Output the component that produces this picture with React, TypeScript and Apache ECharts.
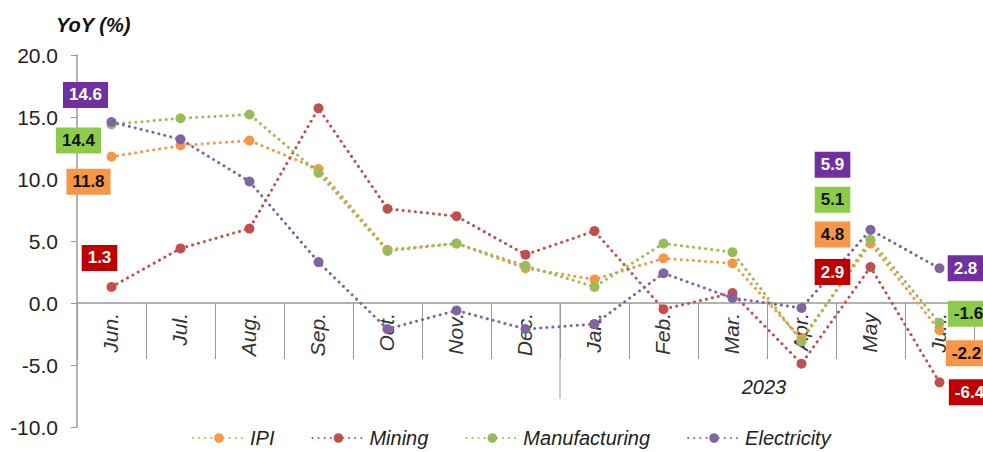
import React, { useEffect, useRef } from "react";
import * as echarts from "echarts";

const months = ["Jun.", "Jul.", "Aug.", "Sep.", "Oct.", "Nov.", "Dec.", "Jan.", "Feb.", "Mar.", "Apr.", "May", "Jun."];
const yearLabel = "2023";
const ipi = [11.8, 12.7, 13.1, 10.8, 4.3, 4.8, 2.8, 1.9, 3.6, 3.2, -2.9, 4.8, -2.2];
const mining = [1.3, 4.4, 6.0, 15.7, 7.6, 7.0, 3.9, 5.8, -0.5, 0.8, -4.9, 2.9, -6.4];
const manufacturing = [14.4, 14.9, 15.2, 10.5, 4.2, 4.8, 3.0, 1.3, 4.8, 4.1, -3.1, 5.1, -1.6];
const electricity = [14.6, 13.2, 9.8, 3.3, -2.1, -0.6, -2.1, -1.7, 2.4, 0.4, -0.4, 5.9, 2.8];
const yearStartIndex = 7;

const FONT = "'Liberation Sans', Arial, sans-serif";

type SeriesDef = {
  name: string;
  data: number[];
  color: string;
  boxColor: string;
  textColor: string;
  offsets: Record<number, [number, number]>;
};

const seriesDefs: SeriesDef[] = [
  {
    name: "IPI",
    data: ipi,
    color: "#F79646",
    boxColor: "#F79646",
    textColor: "#111",
    offsets: { 0: [-23, 25], 11: [-38, -9], 12: [27, 23] },
  },
  {
    name: "Mining",
    data: mining,
    color: "#C0504D",
    boxColor: "#C00000",
    textColor: "#fff",
    offsets: { 0: [-12, -29], 11: [-38, 5], 12: [30, 10] },
  },
  {
    name: "Manufacturing",
    data: manufacturing,
    color: "#9BBB59",
    boxColor: "#8DCB4A",
    textColor: "#111",
    offsets: { 0: [-33, 16], 11: [-38, -40], 12: [29, -9] },
  },
  {
    name: "Electricity",
    data: electricity,
    color: "#8064A2",
    boxColor: "#7030A0",
    textColor: "#fff",
    offsets: { 0: [-26, -27], 11: [-38, -65], 12: [26, 0] },
  },
];

export default function App() {
  const ref = useRef<HTMLDivElement>(null);

  useEffect(() => {
    if (!ref.current) return;
    const chart = echarts.init(ref.current, undefined, { renderer: "svg" });

    const series = seriesDefs.map((s) => ({
      name: s.name,
      type: "line",
      data: s.data.map((v, i) => {
        const off = s.offsets[i];
        if (!off) return v;
        return {
          value: v,
          label: {
            show: true,
            position: "inside",
            offset: off,
            formatter: (p: any) => Number(p.value).toFixed(1),
            backgroundColor: s.boxColor,
            color: s.textColor,
            fontWeight: "bold",
            fontSize: 17,
            fontFamily: FONT,
            padding: [5, 6, 4, 6],
          },
        };
      }),
      symbol: "circle",
      symbolSize: 10,
      color: s.color,
      itemStyle: { color: s.color },
      lineStyle: { color: s.color, width: 3, type: [0.1, 6], cap: "round" },
      label: { show: false },
      z: 2,
    }));

    chart.setOption({
      animation: false,
      title: {
        text: "YoY (%)",
        left: 51,
        top: 10,
        textStyle: { fontSize: 20, fontWeight: "bold", fontStyle: "italic", color: "#111", fontFamily: FONT },
      },
      grid: { left: 77, right: 9, top: 55, bottom: 25, containLabel: false, outerBoundsMode: "none" },
      legend: {
        top: 428,
        left: 192,
        itemWidth: 52,
        itemHeight: 12,
        itemGap: 37,
        padding: 0,
        textStyle: { fontSize: 20, fontStyle: "italic", color: "#222", fontFamily: FONT },
        data: seriesDefs.map((s) => s.name),
      },
      xAxis: {
        type: "category",
        data: months,
        boundaryGap: true,
        axisLine: { onZero: true, lineStyle: { color: "#999", width: 1.5 } },
        axisTick: { show: true, interval: 0, length: 56, lineStyle: { color: "#999" } },
        axisLabel: { show: false },
        splitLine: { show: false },
      },
      yAxis: {
        type: "value",
        min: -10,
        max: 20,
        interval: 5,
        axisLine: { show: true, lineStyle: { color: "#999", width: 1.5 } },
        axisTick: { show: true, length: 6, lineStyle: { color: "#999" } },
        axisLabel: {
          formatter: (v: number) => v.toFixed(1),
          fontSize: 21,
          color: "#222",
          margin: 19,
          fontFamily: FONT,
        },
        splitLine: { show: false },
      },
      series,
    });

    const px = (i: number) => chart.convertToPixel({ xAxisIndex: 0 }, i) as number;
    const y0 = chart.convertToPixel({ yAxisIndex: 0 }, 0) as number;
    const sep = (px(yearStartIndex - 1) + px(yearStartIndex)) / 2;
    const yearX = (px(9) + px(10)) / 2;

    const monthTexts = months.map((m, i) => ({
      type: "text",
      x: px(i) - 1,
      y: y0 + 10,
      rotation: Math.PI / 2,
      z: 1,
      style: {
        text: m,
        fontSize: 21,
        fontStyle: "italic",
        fill: "#333",
        fontFamily: FONT,
        align: "right",
        verticalAlign: "middle",
      },
    }));

    chart.setOption({
      graphic: [
        {
          type: "line",
          shape: { x1: sep, y1: y0, x2: sep, y2: y0 + 96 },
          style: { stroke: "#999", lineWidth: 1 },
          z: 1,
        },
        ...monthTexts,
        {
          type: "text",
          x: yearX - 3,
          y: y0 + 84,
          style: {
            text: yearLabel,
            fontSize: 20,
            fontStyle: "italic",
            fill: "#222",
            fontFamily: FONT,
            align: "center",
            verticalAlign: "middle",
          },
        },
      ],
    });

    return () => chart.dispose();
  }, []);

  return (
    <div
      ref={ref}
      style={{ position: "fixed", left: 0, top: 0, width: 983, height: 452, background: "#fff" }}
    />
  );
}
